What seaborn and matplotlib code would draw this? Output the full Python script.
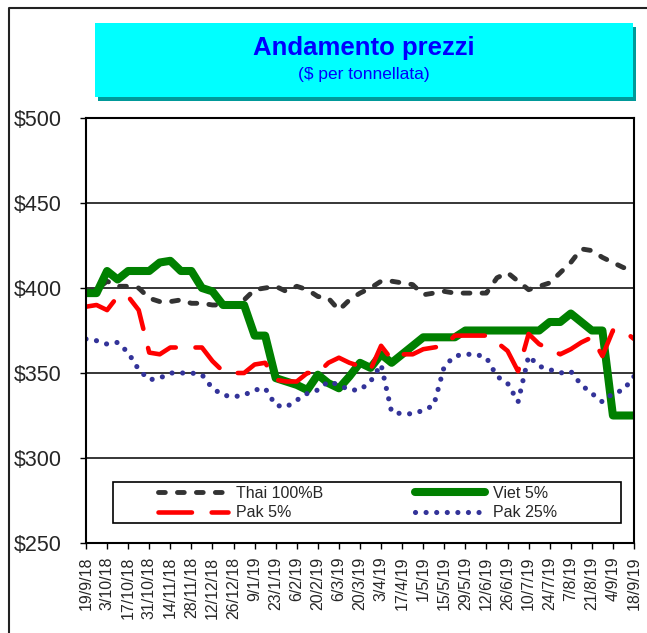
import numpy as np
import matplotlib
matplotlib.use("Agg")
import matplotlib.pyplot as plt
import seaborn as sns
from matplotlib.patches import Rectangle
from matplotlib.lines import Line2D
from matplotlib.ticker import FuncFormatter

# weekly quotes, 19/9/18 .. 18/9/19
tick_labels = ['19/9/18', '3/10/18', '17/10/18', '31/10/18', '14/11/18', '28/11/18',
               '12/12/18', '26/12/18', '9/1/19', '23/1/19', '6/2/19', '20/2/19',
               '6/3/19', '20/3/19', '3/4/19', '17/4/19', '1/5/19', '15/5/19',
               '29/5/19', '12/6/19', '26/6/19', '10/7/19', '24/7/19', '7/8/19',
               '21/8/19', '4/9/19', '18/9/19']

thai_100b = [398, 399, 404, 401, 401, 400, 394, 392, 392, 393, 391, 391, 390, 390, 390, 393,
             399, 400, 401, 398, 401, 399, 395, 394, 387, 393, 397, 400, 404, 404, 403, 402,
             396, 397, 398, 397, 397, 397, 397, 406, 409, 404, 399, 401, 403, 409, 415, 423,
             422, 418, 415, 412, 411]
viet_5 = [397, 397, 410, 405, 410, 410, 410, 415, 416, 410, 410, 400, 398, 390, 390, 390,
          372, 372, 347, 345, 343, 340, 349, 344, 341, 348, 356, 353, 361, 356, 361, 366,
          371, 371, 371, 371, 375, 375, 375, 375, 375, 375, 375, 375, 380, 380, 385, 380,
          375, 375, 325, 325, 325]
pak_5 = [389, 390, 387, 395, 395, 387, 362, 361, 365, 365, 365, 365, 357, 351, 350, 350,
         355, 356, 346, 345, 345, 350, 350, 356, 359, 356, 354, 352, 366, 358, 361, 361,
         364, 365, 366, 372, 372, 372, 372, 368, 363, 351, 373, 367, 364, 361, 364, 368,
         371, 360, 375, 375, 370]
pak_25 = [370, 369, 367, 368, 362, 352, 346, 347, 350, 350, 350, 349, 341, 337, 336, 337,
          340, 341, 331, 330, 334, 338, 340, 345, 343, 340, 340, 345, 355, 327, 326, 326,
          328, 331, 354, 360, 361, 361, 359, 348, 344, 333, 360, 354, 352, 350, 351, 343,
          338, 333, 338, 340, 348]

week = np.arange(len(thai_100b))

sns.set_theme(style="white")
plt.rcParams['font.family'] = ['Liberation Sans', 'DejaVu Sans']

W, H = 647, 633
fig = plt.figure(figsize=(W / 100, H / 100), dpi=100)
fig.patch.set_facecolor('white')
ax = fig.add_axes([86 / W, 90 / H, 548 / W, 425 / H])

sns.lineplot(x=week, y=thai_100b, ax=ax, color='#333333', lw=3.5,
             linestyle=(0, (1.4, 2.5)), dash_capstyle='round', label='Thai 100%B')
sns.lineplot(x=week, y=viet_5, ax=ax, color='#008000', lw=5.8, label='Viet 5%')
sns.lineplot(x=week, y=pak_5, ax=ax, color='#FF0000', lw=3.3,
             linestyle=(0, (7.3, 4.3)), dash_capstyle='round', label='Pak 5%')
sns.lineplot(x=week, y=pak_25, ax=ax, color='#333399', lw=3.7,
             linestyle=(0, (0.01, 2.05)), dash_capstyle='round', label='Pak 25%')

ax.set_xlim(0, len(week) - 1)
ax.set_ylim(250, 500)
ax.set_xticks(week[::2])
ax.set_xticklabels(tick_labels, rotation=90)
ax.set_yticks(np.arange(250, 501, 50))
ax.yaxis.set_major_formatter(FuncFormatter(lambda v, p: r'\$%d' % v))
ax.set_xlabel('')
ax.set_ylabel('')
ax.tick_params(axis='x', direction='out', length=4.3, width=1, color='black',
               pad=5.5, labelsize=11.5, bottom=True)
ax.tick_params(axis='y', direction='out', length=4.3, width=1, color='black',
               pad=13, labelsize=15.5, left=True)
ax.yaxis.grid(True, color='black', lw=1.1)
ax.xaxis.grid(False)
for s in ax.spines.values():
    s.set_color('black')
    s.set_linewidth(1.5)

# legend: frame drawn separately so the entries can sit where they do in the original
handles = ax.get_legend_handles_labels()[0]
h = [handles[0], handles[2], handles[1], handles[3]]
lab = ['Thai 100%B', 'Pak 5%', 'Viet 5%', 'Pak 25%']
ax.add_patch(Rectangle((27 / 548, 20 / 425), 508 / 548, 41 / 425, transform=ax.transAxes,
                       fc='white', ec='black', lw=1.2, zorder=4))
ax.legend(h, lab, ncol=2, frameon=False, loc='upper left',
          bbox_to_anchor=((158 - 86) / 548, (543 - 486) / 425), borderpad=0,
          borderaxespad=0, handlelength=4.4, handletextpad=0.5, columnspacing=5.7,
          fontsize=11.5, labelspacing=0.28).set_zorder(5)

# title box with shadow
fig.patches.append(Rectangle((98 / W, 1 - 101 / H), 538 / W, 74 / H,
                             transform=fig.transFigure, fc='#009999', ec='none'))
fig.patches.append(Rectangle((95 / W, 1 - 97 / H), 538 / W, 74 / H,
                             transform=fig.transFigure, fc='#00FFFF', ec='none'))
fig.text(364 / W, 1 - 48 / H, 'Andamento prezzi', ha='center', va='center',
         fontsize=18.5, fontweight='bold', color='#0000FF')
fig.text(364 / W, 1 - 75 / H, r'(\$ per tonnellata)', ha='center', va='center',
         fontsize=12.5, color='#0000FF')

# chart area border (cut off at right and bottom in the original)
fig.add_artist(Line2D([9 / W, 9 / W, 1.0], [0, 1 - 8 / H, 1 - 8 / H],
                      transform=fig.transFigure, color='#222222', lw=1.5))

fig.savefig('out.png', dpi=100)
